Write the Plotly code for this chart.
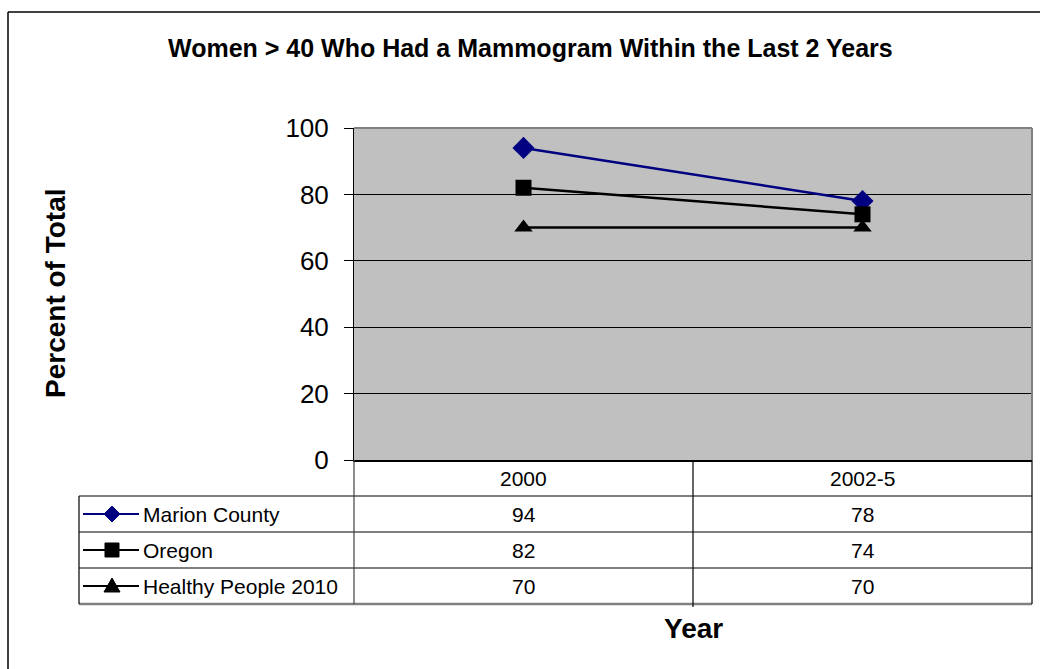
import plotly.graph_objects as go

# ---------------- data ----------------
categories = ["2000", "2002-5"]
series_names = ["Marion County", "Oregon", "Healthy People 2010"]
marion_county = [94, 78]
oregon = [82, 74]
healthy_people_2010 = [70, 70]
y_tick_values = [0, 20, 40, 60, 80, 100]
chart_title = "Women > 40 Who Had a Mammogram Within the Last 2 Years"
x_title = "Year"
y_title = "Percent of Total"

series_values = [marion_county, oregon, healthy_people_2010]
series_colors = ["#000080", "#000000", "#000000"]
series_symbols = ["diamond", "square", "triangle-up"]

FONT = "Arial, Liberation Sans, Helvetica, sans-serif"
W, H = 1040, 669
PL, PR, PT, PB = 354, 1032, 128, 460  # plot area in pixels


def px(x):
    return (x - PL) / (PR - PL)


def py(y):
    return (PB - y) / (PB - PT)


fig = go.Figure()
for name, vals, col, sym in zip(series_names, series_values, series_colors, series_symbols):
    fig.add_trace(go.Scatter(
        x=categories, y=vals, name=name, mode="lines+markers",
        line=dict(color=col, width=2.5),
        marker=dict(symbol=sym, size=16 if sym != "diamond" else 17, color=col),
        cliponaxis=False,
    ))

shapes = []
annotations = []

# plot area border (gray top/right)
shapes.append(dict(type="line", xref="paper", yref="paper", x0=0, x1=1, y0=1, y1=1,
                   line=dict(color="#808080", width=2)))
shapes.append(dict(type="line", xref="paper", yref="paper", x0=1, x1=1, y0=0, y1=1,
                   line=dict(color="#808080", width=2)))

# outer chart border (top and left edges visible)
shapes.append(dict(type="line", xref="paper", yref="paper", x0=px(8), x1=px(1045),
                   y0=py(12), y1=py(12), line=dict(color="#000000", width=1.5)))
shapes.append(dict(type="line", xref="paper", yref="paper", x0=px(8), x1=px(8),
                   y0=py(12), y1=py(675), line=dict(color="#000000", width=1.5)))

# data table geometry
row_h = 36
header_top = PB
rows_top = [PB + row_h * (i + 1) for i in range(len(series_names))]
table_bottom = PB + row_h * (len(series_names) + 1)
TL = 79
mid = (PL + PR) / 2

# horizontal lines
for i in range(len(series_names)):
    shapes.append(dict(type="line", xref="paper", yref="paper", x0=px(TL), x1=px(PR),
                       y0=py(rows_top[i]), y1=py(rows_top[i]), line=dict(color="#000000", width=1)))
shapes.append(dict(type="line", xref="paper", yref="paper", x0=px(TL), x1=px(PR),
                   y0=py(table_bottom), y1=py(table_bottom), line=dict(color="#808080", width=2.5)))
# vertical lines
for xv, ytop in [(TL, rows_top[0]), (PL, PB), (mid, PB), (PR, PB)]:
    shapes.append(dict(type="line", xref="paper", yref="paper", x0=px(xv), x1=px(xv),
                       y0=py(ytop), y1=py(table_bottom + 3 if xv == mid else table_bottom),
                       line=dict(color="#000000" if xv != PL else "#404040", width=1.2)))

TXT = dict(family=FONT, size=21, color="#000000")

# header category labels (positioned through the category axis)
for ci, c in enumerate(categories):
    annotations.append(dict(x=ci, y=py(header_top + row_h / 2), xref="x", yref="paper",
                            text=c, showarrow=False, xanchor="center", yanchor="middle", font=TXT))

# value cells + legend keys
for i, (name, vals, col, sym) in enumerate(zip(series_names, series_values, series_colors, series_symbols)):
    cy = rows_top[i] + row_h / 2
    for ci, v in enumerate(vals):
        annotations.append(dict(x=ci, y=py(cy), xref="x", yref="paper", text=str(v),
                                showarrow=False, xanchor="center", yanchor="middle", font=TXT))
    annotations.append(dict(x=px(141), y=py(cy), xref="paper", yref="paper", text=name,
                            xanchor="left", yanchor="middle", showarrow=False, font=TXT))
    shapes.append(dict(type="line", xref="paper", yref="paper", x0=px(83), x1=px(139),
                       y0=py(cy), y1=py(cy), line=dict(color=col, width=2)))
    mx = 112
    if sym == "diamond":
        pts = [(mx, cy - 8), (mx + 8, cy), (mx, cy + 8), (mx - 8, cy)]
    elif sym == "square":
        pts = [(mx - 7, cy - 7), (mx + 7, cy - 7), (mx + 7, cy + 7), (mx - 7, cy + 7)]
    else:
        pts = [(mx, cy - 8), (mx + 8, cy + 6), (mx - 8, cy + 6)]
    path = "M " + " L ".join(f"{px(a):.5f},{py(b):.5f}" for a, b in pts) + " Z"
    shapes.append(dict(type="path", xref="paper", yref="paper", path=path,
                       fillcolor=col, line=dict(color=col, width=1)))

# titles
annotations.append(dict(x=px(530), y=py(48), xref="paper", yref="paper", text=chart_title,
                        xanchor="center", yanchor="middle", showarrow=False,
                        font=dict(family=FONT, size=25, color="#000000", weight="bold")))
annotations.append(dict(x=px(693), y=py(628), xref="paper", yref="paper", text=x_title,
                        xanchor="center", yanchor="middle", showarrow=False,
                        font=dict(family=FONT, size=28, color="#000000", weight="bold")))
annotations.append(dict(x=px(55), y=py(293), xref="paper", yref="paper", text=y_title,
                        xanchor="center", yanchor="middle", textangle=-90, showarrow=False,
                        font=dict(family=FONT, size=28, color="#000000", weight="bold")))

fig.update_layout(
    width=W, height=H,
    margin=dict(l=PL, r=W - PR, t=PT, b=H - PB, pad=0),
    paper_bgcolor="#FFFFFF",
    plot_bgcolor="#C0C0C0",
    showlegend=False,
    shapes=shapes,
    annotations=annotations,
    xaxis=dict(type="category", range=[-0.5, 1.5], showticklabels=False, ticks="",
               showgrid=False, showline=True, linecolor="#000000", linewidth=1.5,
               zeroline=False, fixedrange=True),
    yaxis=dict(range=[0, 100], tickvals=y_tick_values, ticks="outside", ticklen=9,
               tickcolor="#000000", tickwidth=1, showline=True, linecolor="#000000",
               linewidth=1, showgrid=True, gridcolor="#000000", gridwidth=1,
               zeroline=False, ticklabelstandoff=10,
               tickfont=dict(family=FONT, size=26, color="#000000"), fixedrange=True),
)

fig.write_html("out.html", config={"displayModeBar": False},
               post_script="document.body.style.margin='0';")
